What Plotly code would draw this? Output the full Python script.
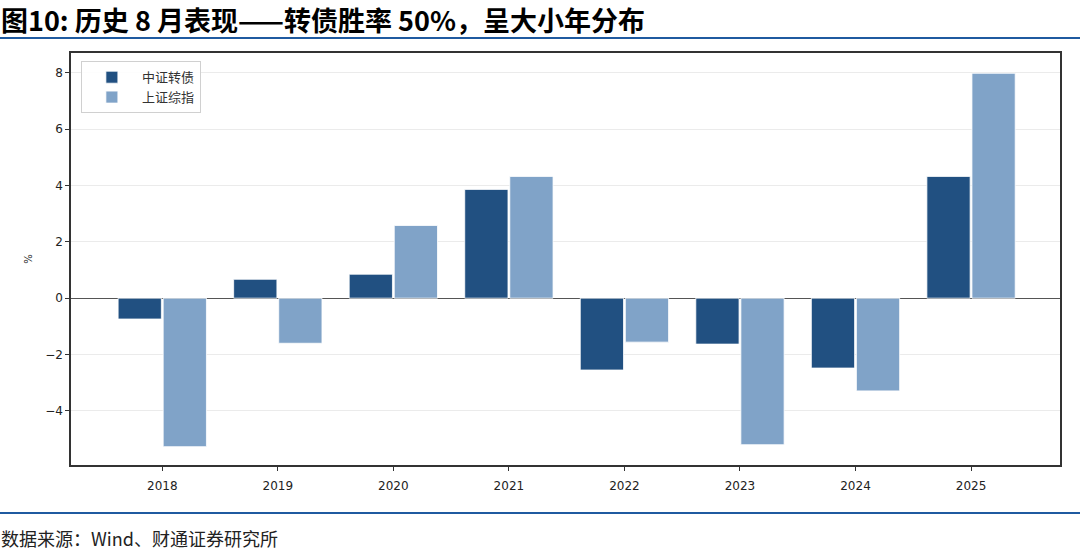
"""
历史 8 月表现 —— 中证转债 vs 上证综指
"""

import plotly.graph_objects as go

YEARS = ["2018", "2019", "2020", "2021", "2022", "2023", "2024", "2025"]
CB_INDEX = [-0.74, 0.67, 0.85, 3.86, -2.55, -1.63, -2.48, 4.32]  # 中证转债
SH_INDEX = [-5.27, -1.60, 2.58, 4.32, -1.56, -5.20, -3.29, 7.98]  # 上证综指
Y_TICKS = [-4, -2, 0, 2, 4, 6, 8]

DARK_CLR = "#215081"
LIGHT_CLR = "#80a3c8"
LINE_CLR = "#1f5aa0"
TITLE = "图10: 历史 8 月表现——转债胜率 50%，呈大小年分布"
SOURCE = "数据来源：Wind、财通证券研究所"
CJK_FONT = "Noto Sans CJK SC"

PLOT_H = 550 - 53 - 85  # 绘图区高度(px)


def create_bar(years, cb, sh):
    fig = go.Figure()
    for name, vals, clr in [("中证转债", cb, DARK_CLR), ("上证综指", sh, LIGHT_CLR)]:
        fig.add_trace(
            go.Bar(
                x=years,
                y=vals,
                name=name,
                marker=dict(color=clr, line=dict(color="white", width=0.8)),
                hovertemplate="%{x}: %{y:.2f}%<extra>" + name + "</extra>",
            )
        )

    fig.update_layout(
        width=1080,
        height=550,
        margin=dict(t=53, b=85, l=71, r=20, autoexpand=False),
        paper_bgcolor="white",
        plot_bgcolor="white",
        barmode="group",
        bargap=0.22,
        bargroupgap=0.04,
        font=dict(family="DejaVu Sans", size=12, color="#222"),
        legend=dict(
            x=0.01,
            y=0.98,
            xanchor="left",
            yanchor="top",
            bgcolor="rgba(255,255,255,0.9)",
            bordercolor="#d0d0d0",
            borderwidth=1,
            itemwidth=50,
            font=dict(family=CJK_FONT, size=13, color="#333"),
        ),
        xaxis=dict(
            type="category",
            range=[-0.79, 7.77],
            showline=True,
            linecolor="#333",
            linewidth=1.5,
            mirror=True,
            ticks="outside",
            ticklen=4,
            tickcolor="#333",
            ticklabelstandoff=5,
            showgrid=False,
        ),
        yaxis=dict(
            range=[-5.92, 8.7],
            tickvals=Y_TICKS,
            ticktext=["\u2212" + str(-v) if v < 0 else str(v) for v in Y_TICKS],
            showline=True,
            linecolor="#333",
            linewidth=1.5,
            mirror=True,
            ticks="outside",
            ticklen=4,
            tickcolor="#333",
            gridcolor="#ebebeb",
            gridwidth=1,
            zeroline=True,
            zerolinecolor="#555",
            zerolinewidth=1,
            title=dict(text="%", font=dict(size=10), standoff=11),
        ),
    )

    # 标题、分隔线、数据来源
    fig.add_annotation(
        text="<b>" + TITLE + "</b>",
        xref="paper", yref="paper", x=-0.073, y=1.0, yshift=55,
        xanchor="left", yanchor="top", showarrow=False,
        font=dict(family=CJK_FONT, size=27, color="black"),
    )
    fig.add_shape(type="line", xref="paper", yref="paper", x0=-0.075, x1=1.025,
                  y0=1 + 15 / PLOT_H, y1=1 + 15 / PLOT_H,
                  line=dict(color=LINE_CLR, width=2))
    fig.add_shape(type="line", xref="paper", yref="paper", x0=-0.075, x1=1.025,
                  y0=-48 / PLOT_H, y1=-48 / PLOT_H,
                  line=dict(color=LINE_CLR, width=2))
    fig.add_annotation(
        text=SOURCE,
        xref="paper", yref="paper", x=-0.073, y=0.0, yshift=-58,
        xanchor="left", yanchor="top", showarrow=False,
        font=dict(family=CJK_FONT, size=18, color="#222"),
    )
    return fig


def main():
    fig = create_bar(YEARS, CB_INDEX, SH_INDEX)
    fig.write_html(
        "out.html",
        config={"displayModeBar": False},
        post_script="document.body.style.margin='0';",
    )


if __name__ == "__main__":
    main()
